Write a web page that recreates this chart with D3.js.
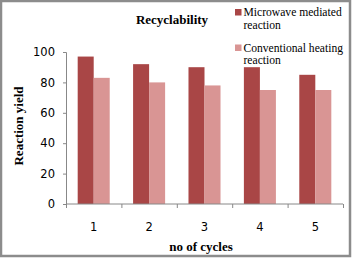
<!DOCTYPE html>
<html>
<head>
<meta charset="utf-8">
<script src="https://cdn.jsdelivr.net/npm/d3@7"></script>
<style>
  body { margin: 0; background: #fff; }
  svg { display: block; }
</style>
</head>
<body>
<div id="chart"></div>
<script>
// chart values
const cycles = ["1", "2", "3", "4", "5"];
const seriesNames = ["Microwave mediated reaction", "Conventional heating reaction"];
const microwave = [97, 92, 90, 90, 85];
const conventional = [83, 80, 78, 75, 75];
const yTicks = [0, 20, 40, 60, 80, 100];
const colors = ["#a94646", "#d99594"];

const W = 352, H = 258;
const margin = { top: 52, right: 9, bottom: 54, left: 66 };

const svg = d3.select("#chart").append("svg")
    .attr("width", W)
    .attr("height", H);

// outer frame
svg.append("rect")
    .attr("x", 1).attr("y", 1)
    .attr("width", W - 3).attr("height", H - 3)
    .attr("fill", "#fff")
    .attr("stroke", "#8c8c8c")
    .attr("stroke-width", 2.5);

const g = svg.append("g")
    .attr("transform", `translate(${margin.left},${margin.top})`);

const width = W - margin.left - margin.right,
      height = H - margin.top - margin.bottom;

const x0 = d3.scaleBand().domain(cycles).range([0, width]).padding(0);
const x1 = d3.scaleBand().domain(seriesNames).range([0, x0.bandwidth()])
    .paddingInner(0).paddingOuter(0.73);
const y = d3.scaleLinear().domain([0, 100]).range([height, 0]);

const rows = cycles.map((c, i) => ({ cycle: c, values: [microwave[i], conventional[i]] }));

// bars
const groups = g.selectAll(".grp").data(rows).join("g")
    .attr("class", "grp")
    .attr("transform", d => `translate(${x0(d.cycle)},0)`);

groups.selectAll("rect")
    .data(d => d.values.map((v, j) => ({ name: seriesNames[j], value: v, j })))
    .join("rect")
    .attr("x", d => x1(d.name))
    .attr("y", d => y(d.value))
    .attr("width", x1.bandwidth())
    .attr("height", d => height - y(d.value))
    .attr("fill", d => colors[d.j]);

// y axis
const yAxis = g.append("g")
    .call(d3.axisLeft(y).tickValues(yTicks).tickSize(3).tickPadding(8));
yAxis.select(".domain").attr("stroke", "#888").attr("d", `M-3,${height + 0.5}H0.5V0.5H-3`);
yAxis.selectAll(".tick line").attr("stroke", "#888");
yAxis.selectAll("text")
    .attr("font-family", "DejaVu Sans, sans-serif")
    .attr("font-size", 11.5)
    .attr("fill", "#000");

// x axis
const xAxis = g.append("g")
    .attr("transform", `translate(0,${height})`)
    .call(d3.axisBottom(x0).tickSize(0).tickPadding(19));
xAxis.select(".domain").attr("stroke", "#888").attr("d", `M0.5,0H${width}`);
xAxis.selectAll("text")
    .attr("font-family", "DejaVu Sans, sans-serif")
    .attr("font-size", 11.5)
    .attr("fill", "#000");

// category boundary ticks
g.append("g").selectAll("line")
    .data(d3.range(cycles.length + 1))
    .join("line")
    .attr("x1", i => i * x0.step() + 0.5)
    .attr("x2", i => i * x0.step() + 0.5)
    .attr("y1", height)
    .attr("y2", height + 4)
    .attr("stroke", "#888");

// title
svg.append("text")
    .attr("x", 172).attr("y", 24)
    .attr("text-anchor", "middle")
    .attr("font-family", "Liberation Serif, serif")
    .attr("font-weight", "bold")
    .attr("font-size", 13)
    .text("Recyclability");

// axis titles
svg.append("text")
    .attr("transform", "translate(23,126) rotate(-90)")
    .attr("text-anchor", "middle")
    .attr("font-family", "Liberation Serif, serif")
    .attr("font-weight", "bold")
    .attr("font-size", 13)
    .text("Reaction yield");

svg.append("text")
    .attr("x", 201).attr("y", 251)
    .attr("text-anchor", "middle")
    .attr("font-family", "Liberation Serif, serif")
    .attr("font-weight", "bold")
    .attr("font-size", 13)
    .text("no of cycles");

// legend
const legendLines = [["Microwave mediated", "reaction"], ["Conventional heating", "reaction"]];
const legend = svg.append("g").attr("transform", "translate(235,0)");
legendLines.forEach((lines, i) => {
    const item = legend.append("g").attr("transform", `translate(0,${9 + i * 35.5})`);
    item.append("rect")
        .attr("width", 6.5).attr("height", 6.5)
        .attr("fill", colors[i]);
    lines.forEach((t, k) => {
        item.append("text")
            .attr("x", 8.5)
            .attr("y", 7 + k * 12.8)
            .attr("font-family", "Liberation Serif, serif")
            .attr("font-size", 11.6)
            .text(t);
    });
});
</script>
</body>
</html>
